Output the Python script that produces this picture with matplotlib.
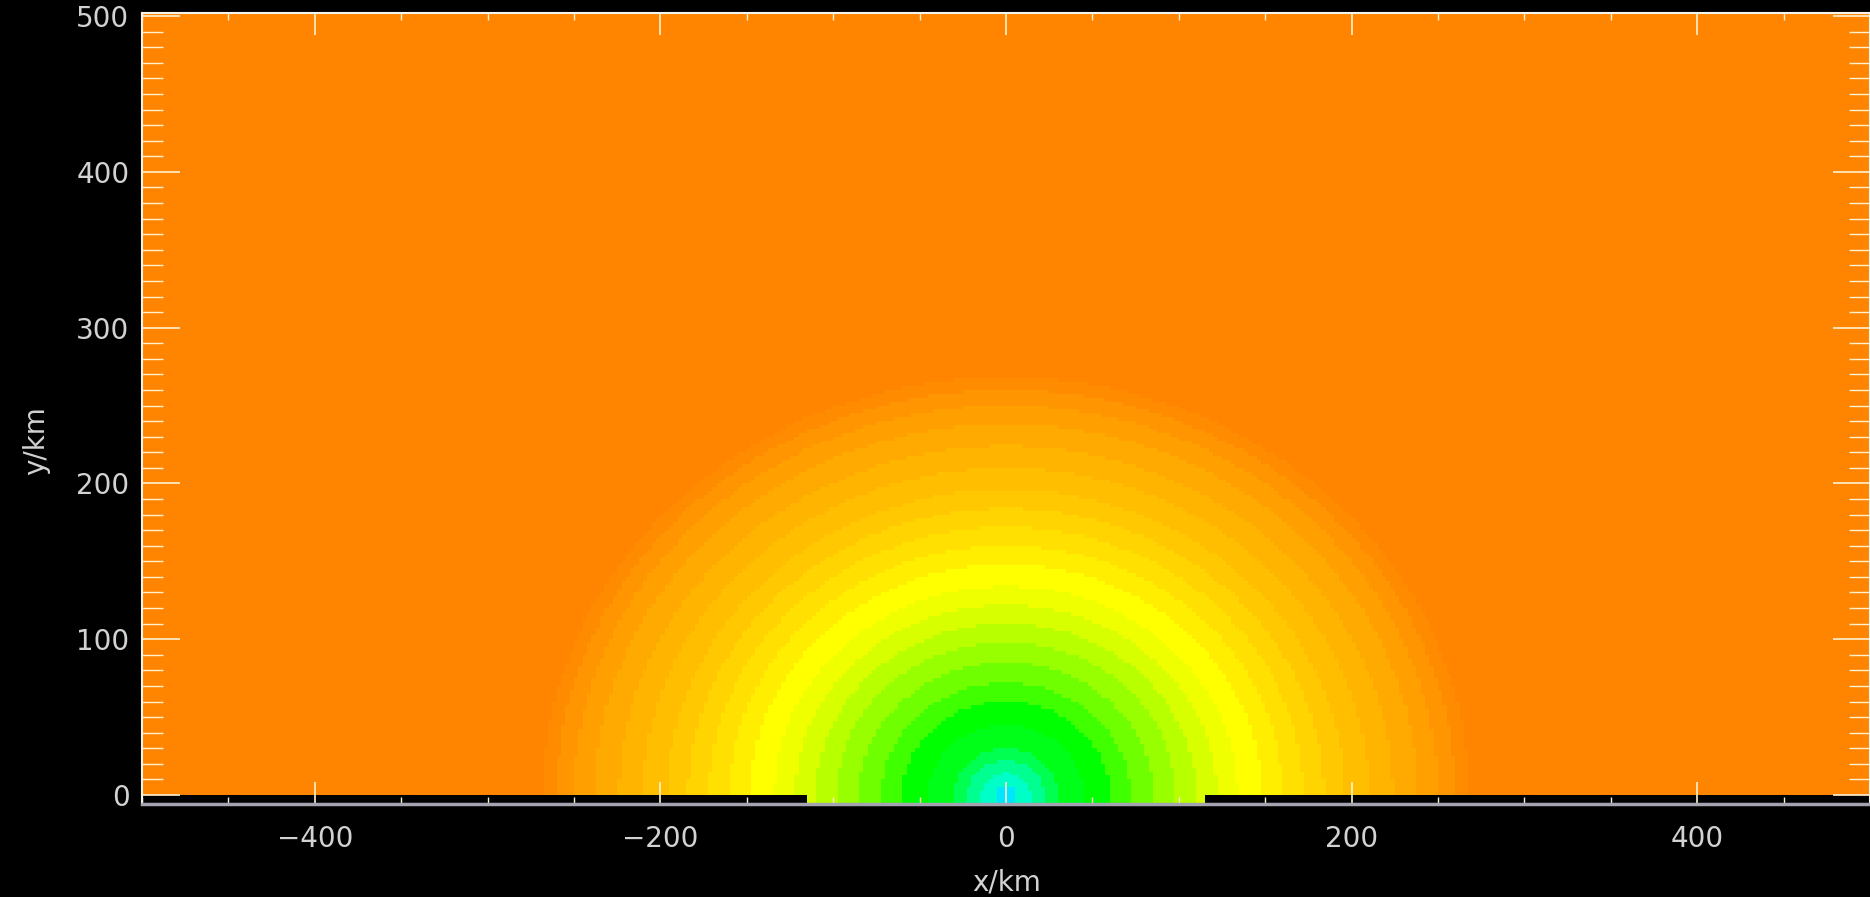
import matplotlib
matplotlib.use('Agg')
import matplotlib.pyplot as plt
from matplotlib.colors import ListedColormap, BoundaryNorm
from matplotlib.ticker import MultipleLocator
import numpy as np

# outer radius (km) of each colour band around the source at x=0, y=0
band_edges = [0, 6, 14, 22, 30, 45, 60, 72, 85, 98, 110, 122, 134, 148,
              160, 172, 184, 196, 210, 224, 238, 250, 260, 268, 2000]
band_colors = ['#00e6ff', '#00ffc8', '#00ff90', '#00ff50', '#00ff18', '#00ff00',
               '#40ff00', '#70ff00', '#98ff00', '#b8ff00', '#d8ff00', '#f0ff00',
               '#ffff00', '#ffee00', '#ffe000', '#ffd400', '#ffc800', '#ffbe00',
               '#ffb400', '#ffaa00', '#ffa000', '#ff9500', '#ff8c00', '#ff8400']

x_ticks = [-400, -200, 0, 200, 400]
y_ticks = [0, 100, 200, 300, 400, 500]

txt = '#d2d2d2'

# model grid: 2.5 km cells, plus a ground row below y=0
x_edges = np.arange(-500, 502.5, 2.5)
y_edges = np.concatenate([[-6.0], np.arange(0, 507.5, 2.5)])
xc = 0.5 * (x_edges[1:] + x_edges[:-1])
yc = 0.5 * (y_edges[1:] + y_edges[:-1])
X, Y = np.meshgrid(xc, yc)
R = np.hypot(X, np.clip(Y, 0, None))
R = np.ma.masked_where((Y < 0) & (np.abs(X) > 115), R)

cmap = ListedColormap(band_colors)
norm = BoundaryNorm(band_edges, ncolors=len(band_colors))

fig = plt.figure(figsize=(18.7, 8.97), dpi=100, facecolor='black')
ax = fig.add_axes([142 / 1870, 93 / 897, 1728 / 1870, 791 / 897])
ax.set_facecolor('black')
ax.pcolormesh(x_edges, y_edges, R, cmap=cmap, norm=norm, shading='flat')

ax.set_xlim(-500, 500)
ax.set_ylim(-5.8, 502)

ax.xaxis.set_major_locator(MultipleLocator(200))
ax.xaxis.set_minor_locator(MultipleLocator(50))
ax.yaxis.set_major_locator(MultipleLocator(100))
ax.yaxis.set_minor_locator(MultipleLocator(10))
ax.set_xticks(x_ticks)
ax.set_yticks(y_ticks)

ax.tick_params(axis='both', which='both', direction='in', colors='#fff2d0',
               top=True, right=True, labelcolor=txt, labelsize=20)
ax.tick_params(axis='x', which='major', length=16, width=1.2, pad=15)
ax.tick_params(axis='x', which='minor', length=5, width=1.0)
ax.tick_params(axis='y', which='major', length=27, width=1.2, pad=9)
ax.tick_params(axis='y', which='minor', length=15, width=1.0)

for side in ['left', 'top', 'right']:
    ax.spines[side].set_color('#f4f4ec')
    ax.spines[side].set_linewidth(1.5)
ax.spines['bottom'].set_color('#a4a4b0')
ax.spines['bottom'].set_linewidth(2.5)

fig.text(1007 / 1870, 1 - 882 / 897, 'x/km', color=txt, fontsize=20,
         ha='center', va='center')
fig.text(36 / 1870, 1 - 441 / 897, 'y/km', color=txt, fontsize=20,
         ha='center', va='center', rotation=90)

fig.savefig('out.png', dpi=100, facecolor='black')
